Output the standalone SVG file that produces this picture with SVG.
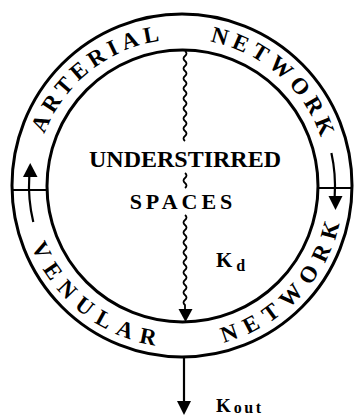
<svg xmlns="http://www.w3.org/2000/svg" width="355" height="417" viewBox="0 0 355 417">
<style>
.ln{fill:none;stroke:#000;stroke-width:3}
.thin{fill:none;stroke:#000;stroke-width:2.2}
.wave{fill:none;stroke:#000;stroke-width:1.8;stroke-linejoin:round}
.head{fill:#000;stroke:none}
text{font-family:"Liberation Serif","Times New Roman",serif;font-weight:bold;fill:#000}
.ring{font-size:23px}
.big{font-size:24px}
</style>
<defs>
<path id="topArc" d="M35,186 A147,147 0 0 1 329,186"/>
<path id="botArc" d="M20,186 A162,162 0 0 0 344,186"/>
</defs>
<rect width="355" height="417" fill="#fff"/>
<g id="ring">
<ellipse class="ln" cx="182" cy="185.5" rx="170" ry="171.5"/>
<ellipse class="ln" cx="182.5" cy="186" rx="135.5" ry="136"/>
<line class="thin" x1="11" y1="190" x2="47" y2="190"/>
<line class="thin" x1="318" y1="188" x2="353" y2="188"/>
</g>
<g id="arterial-network">
<text class="ring" text-anchor="middle" letter-spacing="5"><textPath href="#topArc" startOffset="133.3">ARTERIAL</textPath></text>
<text class="ring" text-anchor="middle" letter-spacing="5.1"><textPath href="#topArc" startOffset="338">NETWORK</textPath></text>
</g>
<g id="venular-network">
<text class="ring" text-anchor="middle" letter-spacing="8.6"><textPath href="#botArc" startOffset="148.5">VENULAR</textPath></text>
<text class="ring" text-anchor="middle" letter-spacing="8.6"><textPath href="#botArc" startOffset="388">NETWORK</textPath></text>
</g>
<g id="understirred-spaces">
<text class="big" x="185" y="167" text-anchor="middle">UNDERSTIRRED</text>
<text x="183" y="209" font-size="22" text-anchor="middle" letter-spacing="4">SPACES</text>
</g>
<g id="kd-label">
<text x="216" y="267" font-size="21">K<tspan font-size="16" dx="4" dy="4">d</tspan></text>
</g>
<g id="kout-label">
<text x="216" y="412" font-size="19">K<tspan font-size="16" dx="3" dy="1" letter-spacing="2.5">out</tspan></text>
</g>
<g id="connectors">
<path class="wave" d="M185,51 q3,2.5 0,5 q-3,2.5 0,5 q3,2.5 0,5 q-3,2.5 0,5 q3,2.5 0,5 q-3,2.5 0,5 q3,2.5 0,5 q-3,2.5 0,5 q3,2.5 0,5 q-3,2.5 0,5 q3,2.5 0,5 q-3,2.5 0,5 q3,2.5 0,5 q-3,2.5 0,5 q3,2.5 0,5 q-3,2.5 0,5 q3,2.5 0,5 q-3,2.5 0,5"/>
<path class="wave" d="M185,173 q3,2.5 0,5 q-3,2.5 0,5 q3,2.5 0,5"/>
<path class="wave" d="M185,215 q3,2.5 0,5 q-3,2.5 0,5 q3,2.5 0,5 q-3,2.5 0,5 q3,2.5 0,5 q-3,2.5 0,5 q3,2.5 0,5 q-3,2.5 0,5 q3,2.5 0,5 q-3,2.5 0,5 q3,2.5 0,5 q-3,2.5 0,5 q3,2.5 0,5 q-3,2.5 0,5 q3,2.5 0,5 q-3,2.5 0,5 q3,2.5 0,5 q-3,2.5 0,5 L185,311"/>
<polygon class="head" points="178.5,309 192.5,309 185.5,322"/>
<line class="thin" x1="184" y1="357" x2="184" y2="402"/>
<polygon class="head" points="177,401 191,401 184,415"/>
<path class="thin" d="M33.3,222 A153,153 0 0 1 29.3,176"/>
<polygon class="head" points="23,177 37.5,177 30.2,163"/>
<path class="thin" d="M331.4,153 A153,153 0 0 1 334.7,196"/>
<polygon class="head" points="328.5,196 342.5,196 335.5,210"/>
</g>
</svg>
